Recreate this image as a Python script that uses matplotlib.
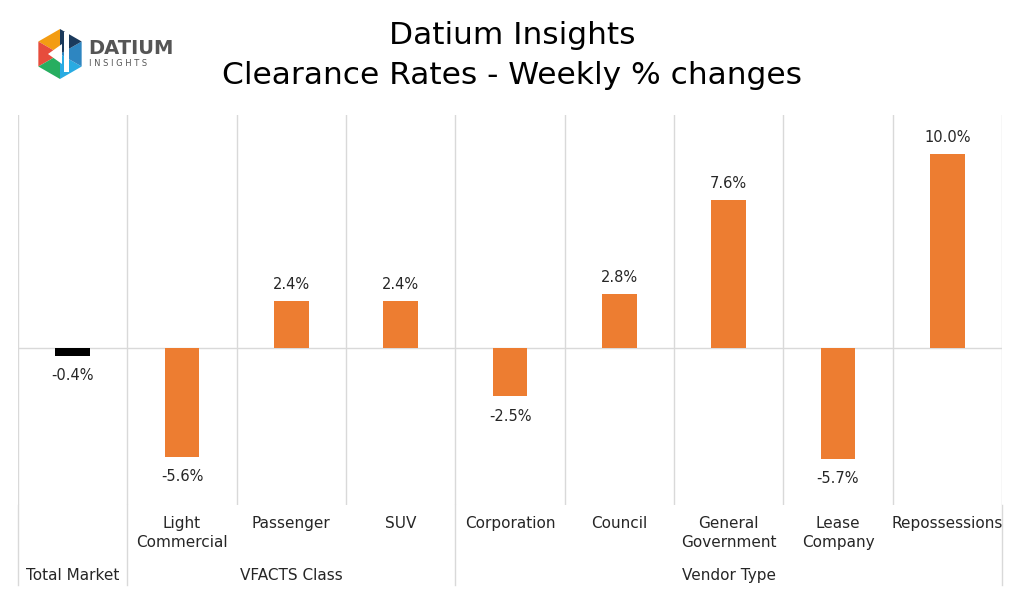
import matplotlib.pyplot as plt
import numpy as np
from matplotlib.patches import Polygon
import matplotlib.transforms as mtransforms

plt.rcParams['font.family'] = ['DejaVu Sans']

# data
categories = ['', 'Light\nCommercial', 'Passenger', 'SUV', 'Corporation',
              'Council', 'General\nGovernment', 'Lease\nCompany', 'Repossessions']
values = [-0.4, -5.6, 2.4, 2.4, -2.5, 2.8, 7.6, -5.7, 10.0]
groups = ['Total Market', 'VFACTS Class', 'Vendor Type']
group_span = [(0, 0), (1, 3), (4, 8)]

orange = '#ED7D31'
grid = '#D9D9D9'
txt = '#262626'
W, H = 1024, 595

fig = plt.figure(figsize=(W / 100, H / 100), dpi=100)
ax = fig.add_axes([18 / W, (H - 505) / H, (1002 - 18) / W, (505 - 115) / H])

x = np.arange(len(values))
colors = ['black'] + [orange] * (len(values) - 1)
ax.bar(x, values, width=0.32, color=colors, zorder=3)
ax.set_xlim(-0.5, len(values) - 0.5)
ax.set_ylim(-8.09, 12.0)
ax.axhline(0, color=grid, lw=1, zorder=2)
for b in np.arange(-0.5, len(values), 1):
    ax.axvline(b, color=grid, lw=1, zorder=1)

for xi, v in zip(x, values):
    if v >= 0:
        ax.annotate(f'{v:.1f}%', (xi, v), xytext=(0, 6.5), textcoords='offset points',
                    ha='center', va='bottom', fontsize=10.5, color=txt)
    else:
        ax.annotate(f'{v:.1f}%', (xi, v), xytext=(0, -9), textcoords='offset points',
                    ha='center', va='top', fontsize=10.5, color=txt)

ax.set_xticks([])
ax.set_yticks([])
for s in ax.spines.values():
    s.set_visible(False)

# category labels + separators below the plot
trans = mtransforms.blended_transform_factory(ax.transData, ax.transAxes)
py = lambda p: (505 - p) / 390.0
for xi, c in zip(x, categories):
    ax.text(xi, py(516), c, transform=trans, ha='center', va='top',
            fontsize=11, color=txt, linespacing=1.3)
bounds = [-0.5, 0.5, 3.5, 8.5]
for b in bounds:
    ax.plot([b, b], [0, py(585)], transform=trans, color=grid, lw=1, clip_on=False)
for g, (a, bnd) in zip(groups, group_span):
    ax.text((a + bnd) / 2, py(568), g, transform=trans, ha='center', va='top',
            fontsize=11, color=txt)

# title
fig.text(512 / W, 1 - 36 / H, 'Datium Insights', ha='center', va='center', fontsize=22.5)
fig.text(512 / W, 1 - 76 / H, 'Clearance Rates - Weekly % changes', ha='center',
         va='center', fontsize=22.5)

# logo (rough)
cx, cy, r = 60, 54, 25
pts = [(cx + r * np.cos(np.radians(90 + 60 * k)), cy - r * np.sin(np.radians(90 + 60 * k)))
       for k in range(6)]
tri_cols = ['#F39C12', '#E74C3C', '#27AE60', '#29ABE2', '#2E86C1', '#1B3A5C']
for k in range(6):
    p1, p2 = pts[k], pts[(k + 1) % 6]
    poly = [(cx, cy), p1, p2]
    fig.patches.append(Polygon([(px / W, 1 - pyy / H) for px, pyy in poly],
                               closed=True, transform=fig.transFigure,
                               facecolor=tri_cols[k], edgecolor='none'))
mark = [(cx - 12, cy), (cx + 2, cy - 10), (cx + 2, cy + 10)]
fig.patches.append(Polygon([(px / W, 1 - pyy / H) for px, pyy in mark], closed=True,
                           transform=fig.transFigure, facecolor='white', edgecolor='none'))
fig.patches.append(Polygon([(px / W, 1 - pyy / H) for px, pyy in
                            [(cx + 4, cy - 22), (cx + 9, cy - 22), (cx + 9, cy + 18), (cx + 4, cy + 18)]],
                           closed=True, transform=fig.transFigure, facecolor='white', edgecolor='none'))
fig.text(88 / W, 1 - 49 / H, 'DATIUM', ha='left', va='center', fontsize=14,
         fontweight='bold', color='#555555')
fig.text(89 / W, 1 - 63 / H, 'I N S I G H T S', ha='left', va='center', fontsize=6,
         color='#555555')

fig.savefig('out.png', dpi=100)
